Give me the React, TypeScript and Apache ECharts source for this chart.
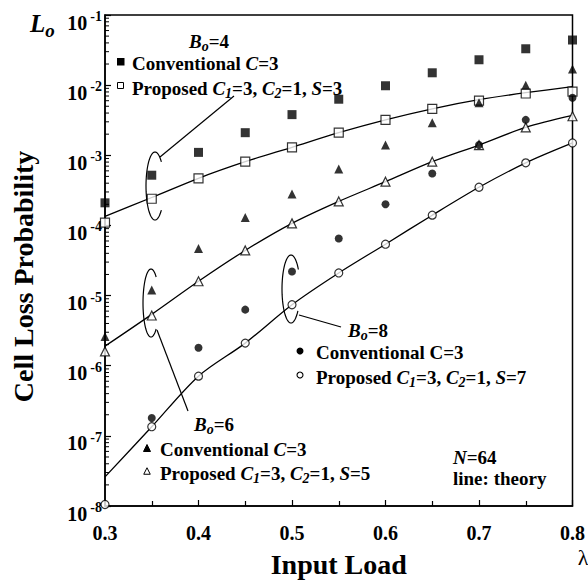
import React, { useEffect, useRef } from 'react';
import * as echarts from 'echarts';

const loads = [0.3, 0.35, 0.4, 0.45, 0.5, 0.55, 0.6, 0.65, 0.7, 0.75, 0.8];
const conv4 = [2.1e-4, 5.2e-4, 1.1e-3, 2.1e-3, 3.8e-3, 6.3e-3, 9.8e-3, 1.5e-2, 2.3e-2, 3.3e-2, 4.4e-2];
const prop4 = [1.1e-4, 2.4e-4, 4.7e-4, 8.1e-4, 1.3e-3, 2.1e-3, 3.2e-3, 4.6e-3, 6.0e-3, 7.6e-3, 8.1e-3];
const theory4 = [1.35e-4, 2.5e-4, 4.7e-4, 8.1e-4, 1.3e-3, 2.1e-3, 3.2e-3, 4.6e-3, 6.2e-3, 7.8e-3, 9.5e-3];
const conv6 = [2.6e-6, 1.2e-5, 4.7e-5, 1.3e-4, 2.8e-4, 6.4e-4, 1.4e-3, 2.9e-3, 5.6e-3, 1.0e-2, 1.7e-2];
const prop6 = [1.6e-6, 5.2e-6, 1.6e-5, 4.4e-5, 1.07e-4, 2.2e-4, 4.2e-4, 8.1e-4, 1.4e-3, 2.5e-3, 3.6e-3];
const theory6 = [1.9e-6, 5.4e-6, 1.6e-5, 4.4e-5, 1.07e-4, 2.2e-4, 4.2e-4, 8.1e-4, 1.4e-3, 2.5e-3, 3.7e-3];
const conv8 = [null, 1.8e-7, 1.8e-6, 6.3e-6, 2.2e-5, 6.5e-5, 2.0e-4, 5.5e-4, 1.4e-3, 3.2e-3, 6.6e-3];
const prop8 = [1.05e-8, 1.35e-7, 7.1e-7, 2.1e-6, 7.4e-6, 2.1e-5, 5.4e-5, 1.4e-4, 3.5e-4, 7.8e-4, 1.5e-3];
const theory8 = [2.6e-8, 1.35e-7, 7.1e-7, 2.1e-6, 7.4e-6, 2.1e-5, 5.4e-5, 1.4e-4, 3.5e-4, 7.8e-4, 1.5e-3];

const yDecades = [-8, -7, -6, -5, -4, -3, -2];
const minorMultipliers = [2, 3, 4, 5, 6, 7, 8, 9];

const FF = 'Liberation Serif';

const pairs = (ys: (number | null)[]) => loads.map((x, i) => [x, ys[i]]).filter((p) => p[1] != null);

const richSet = (size: number, subSize: number) => ({
  n: { fontFamily: FF, fontSize: size, fontWeight: 'bold', lineHeight: size, verticalAlign: 'top', fill: '#000' },
  i: { fontFamily: FF, fontSize: size, fontWeight: 'bold', fontStyle: 'italic', lineHeight: size, verticalAlign: 'top', fill: '#000' },
  sub: { fontFamily: FF, fontSize: subSize, fontWeight: 'bold', fontStyle: 'italic', lineHeight: subSize - 2, verticalAlign: 'top', padding: [8, 0, 0, 0], fill: '#000' },
});

const txt = (x: number, y: number, text: string, size = 19, subSize = 14) => ({
  type: 'text',
  x,
  y,
  style: {
    text,
    rich: richSet(size, subSize),
    fontFamily: FF,
    fontSize: size,
    fontWeight: 'bold',
    fill: '#000',
    align: 'left',
    verticalAlign: 'middle',
  },
});

const ellipse = (cx: number, cy: number, rx: number, ry: number, gapFrom: number, gapTo: number) => {
  const pts: number[][] = [];
  const start = gapTo;
  const end = gapFrom + 360;
  for (let a = start; a <= end; a += 5) {
    const r = (a * Math.PI) / 180;
    pts.push([cx + rx * Math.cos(r), cy + ry * Math.sin(r)]);
  }
  return { type: 'polyline', shape: { points: pts }, style: { stroke: '#000', lineWidth: 1.2, fill: null } };
};

const seg = (x1: number, y1: number, x2: number, y2: number) => ({
  type: 'line',
  shape: { x1, y1, x2, y2 },
  style: { stroke: '#000', lineWidth: 1.2 },
});

const tri = (cx: number, cy: number, s: number, filled: boolean) => ({
  type: 'polygon',
  shape: { points: [[cx, cy - s / 2], [cx + s / 2, cy + s / 2], [cx - s / 2, cy + s / 2]] },
  style: { fill: filled ? '#000' : '#fff', stroke: '#000', lineWidth: 1 },
});

export default function App() {
  const ref = useRef<HTMLDivElement>(null);
  useEffect(() => {
    if (!ref.current) return;
    const chart = echarts.init(ref.current, undefined, { renderer: 'svg' });
    const minorTicks: number[][] = [];
    yDecades.forEach((e) => minorMultipliers.forEach((m) => minorTicks.push([0.3, m * Math.pow(10, e)])));

    const lineSeries = (data: (number | null)[]) => ({
      type: 'line',
      data: pairs(data),
      showSymbol: false,
      symbol: 'none',
      smooth: 0.3,
      lineStyle: { color: '#000', width: 1.3 },
      z: 2,
      silent: true,
    });
    const scatter = (data: (number | null)[], symbol: string, size: number, filled: boolean) => ({
      type: 'scatter',
      data: pairs(data),
      symbol,
      symbolSize: size,
      clip: false,
      itemStyle: { color: filled ? '#000' : '#fff', borderColor: '#000', borderWidth: filled ? 0 : 1.2 },
      z: 3,
    });

    chart.setOption({
      animation: false,
      backgroundColor: '#fff',
      grid: { left: 105, right: 15, top: 15, bottom: 76, show: true, borderColor: '#000', borderWidth: 1.5 },
      xAxis: {
        type: 'value',
        min: 0.3,
        max: 0.8,
        interval: 0.1,
        name: 'Input Load',
        nameLocation: 'middle',
        nameGap: 44,
        nameTextStyle: { fontFamily: FF, fontSize: 28, fontWeight: 'bold', color: '#000' },
        axisLine: { lineStyle: { color: '#000', width: 1.5 } },
        axisTick: { inside: true, length: 6, lineStyle: { color: '#000', width: 1.2 } },
        minorTick: { show: true, splitNumber: 2, length: 5, lineStyle: { color: '#000', width: 1.2 } },
        splitLine: { show: false },
        axisLabel: {
          margin: 17,
          fontFamily: FF,
          fontSize: 20,
          fontWeight: 'bold',
          color: '#000',
          formatter: (v: number) => v.toFixed(1),
        },
      },
      yAxis: {
        type: 'log',
        logBase: 10,
        min: 1e-8,
        max: 1e-1,
        interval: 1,
        name: 'Cell Loss Probability',
        nameLocation: 'middle',
        nameGap: 68,
        nameRotate: 90,
        nameTextStyle: { fontFamily: FF, fontSize: 28, fontWeight: 'bold', color: '#000', padding: [0, 32, 0, 0] },
        axisLine: { lineStyle: { color: '#000', width: 1.5 } },
        axisTick: { inside: true, length: 6, lineStyle: { color: '#000', width: 1.2 } },
        splitLine: { show: false },
        axisLabel: {
          margin: 3,
          padding: [9, 0, 0, 0],
          formatter: (v: number) => `{b|10}{s|${Math.round(Math.log10(v))}}`,
          rich: {
            b: { fontFamily: FF, fontSize: 20, fontWeight: 'bold', color: '#000', lineHeight: 20, verticalAlign: 'top', padding: [3, 0, 0, 0] },
            s: { fontFamily: FF, fontSize: 14, fontWeight: 'bold', color: '#000', lineHeight: 14, verticalAlign: 'top', padding: [0, 0, 0, 3] },
          },
        },
      },
      series: [
        {
          type: 'custom',
          data: minorTicks,
          clip: false,
          silent: true,
          renderItem: (params: any, api: any) => {
            const p = api.coord([api.value(0), api.value(1)]);
            return {
              type: 'line',
              shape: { x1: p[0], y1: p[1], x2: p[0] + 4, y2: p[1] },
              style: { stroke: '#000', lineWidth: 1 },
            };
          },
        },
        lineSeries(theory4),
        lineSeries(theory6),
        lineSeries(theory8),
        scatter(conv4, 'rect', 9, true),
        scatter(prop4, 'rect', 9, false),
        scatter(conv6, 'triangle', 9, true),
        scatter(prop6, 'triangle', 9, false),
        scatter(conv8, 'circle', 8, true),
        scatter(prop8, 'circle', 8, false),
      ],
      graphic: [
        // L_o
        {
          type: 'text',
          x: 30,
          y: 24,
          style: {
            text: '{L|L}{o|o}',
            rich: {
              L: { fontFamily: FF, fontSize: 25, fontWeight: 'bold', fontStyle: 'italic', lineHeight: 26, verticalAlign: 'top', fill: '#000' },
              o: { fontFamily: FF, fontSize: 19, fontWeight: 'bold', fontStyle: 'italic', lineHeight: 18, verticalAlign: 'top', padding: [10, 0, 0, 0], fill: '#000' },
            },
            verticalAlign: 'middle',
            align: 'left',
          },
        },
        // B=4 group
        txt(189, 41, '{i|B}{sub|o}{n|=4}'),
        { type: 'rect', shape: { x: 117, y: 58, width: 7.5, height: 7.5 }, style: { fill: '#000' } },
        txt(132, 63, '{n|Conventional }{i|C}{n|=3}'),
        { type: 'rect', shape: { x: 117.5, y: 82.5, width: 6, height: 6 }, style: { fill: '#fff', stroke: '#000', lineWidth: 1 } },
        txt(132, 88, '{n|Proposed }{i|C}{sub|1}{n|=3, }{i|C}{sub|2}{n|=1, }{i|S}{n|=3}'),
        ellipse(155, 186, 9, 34, -45, 45),
        seg(160, 157, 234, 96),
        // B=8 group
        txt(348, 330, '{i|B}{sub|o}{n|=8}'),
        { type: 'circle', shape: { cx: 300, cy: 351, r: 3.5 }, style: { fill: '#000' } },
        txt(316, 352, '{n|Conventional C=3}'),
        { type: 'circle', shape: { cx: 300, cy: 375, r: 3 }, style: { fill: '#fff', stroke: '#000', lineWidth: 1.1 } },
        txt(316, 377, '{n|Proposed }{i|C}{sub|1}{n|=3, }{i|C}{sub|2}{n|=1, }{i|S}{n|=7}'),
        ellipse(291, 289, 9, 34, -35, 40),
        seg(299, 315, 341, 327),
        // B=6 group
        txt(194, 424, '{i|B}{sub|o}{n|=6}'),
        tri(147, 448, 7, true),
        txt(160, 449, '{n|Conventional }{i|C}{n|=3}'),
        tri(147, 471, 6.5, false),
        txt(160, 473, '{n|Proposed }{i|C}{sub|1}{n|=3, }{i|C}{sub|2}{n|=1, }{i|S}{n|=5}'),
        ellipse(151, 303, 8, 34, -50, 50),
        seg(157, 330, 188, 411),
        // notes
        txt(453, 457, '{i|N}{n|=64}'),
        txt(453, 478, '{n|line: theory}'),
        {
          type: 'text',
          x: 583,
          y: 557,
          style: { text: 'λ', fontFamily: FF, fontSize: 22, fill: '#000', align: 'center', verticalAlign: 'middle' },
        },
      ],
    });
    return () => chart.dispose();
  }, []);
  return <div ref={ref} style={{ position: 'fixed', left: 0, top: 0, width: 588, height: 583 }} />;
}
